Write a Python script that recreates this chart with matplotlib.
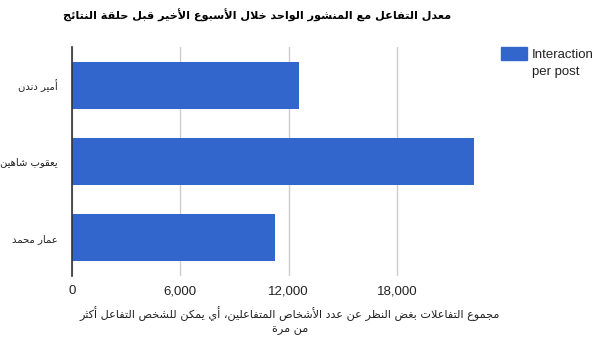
import matplotlib
matplotlib.use("Agg")
import matplotlib.pyplot as plt
from matplotlib.patches import Rectangle

# data
names = ["أمير دندن", "يعقوب شاهين", "عمار محمد"]
interaction = [12550, 22230, 11240]
ticks = [0, 6000, 12000, 18000]
tick_labels = ["0", "6,000", "12,000", "18,000"]
title = "معدل التفاعل مع المنشور الواحد خلال الأسبوع الأخير قبل حلقة النتائج"
xlabel_lines = ["مجموع التفاعلات بغض النظر عن عدد الأشخاص المتفاعلين، أي يمكن للشخص التفاعل أكثر",
                "من مرة"]
legend_label = "Interaction\nper post"

# --- small arabic shaper (matplotlib has no bidi/shaping) ---
# letters in order with number of presentation forms (FE80 onwards)
_order = [(0x621, 1), (0x622, 2), (0x623, 2), (0x624, 2), (0x625, 2), (0x626, 4),
          (0x627, 2), (0x628, 4), (0x629, 2), (0x62A, 4), (0x62B, 4), (0x62C, 4),
          (0x62D, 4), (0x62E, 4), (0x62F, 2), (0x630, 2), (0x631, 2), (0x632, 2),
          (0x633, 4), (0x634, 4), (0x635, 4), (0x636, 4), (0x637, 4), (0x638, 4),
          (0x639, 4), (0x63A, 4), (0x641, 4), (0x642, 4), (0x643, 4), (0x644, 4),
          (0x645, 4), (0x646, 4), (0x647, 4), (0x648, 2), (0x649, 2), (0x64A, 4)]
FORMS = {}
_p = 0xFE80
for cp, n in _order:
    FORMS[chr(cp)] = (_p, n)
    _p += n
LAMALEF = {"\u0622": 0xFEF5, "\u0623": 0xFEF7, "\u0625": 0xFEF9, "\u0627": 0xFEFB}


def dual(c):
    return c in FORMS and FORMS[c][1] == 4


def shape(text):
    # merge lam + alef first
    chars = []
    i = 0
    while i < len(text):
        c = text[i]
        if c == "\u0644" and i + 1 < len(text) and text[i + 1] in LAMALEF:
            chars.append(("LA", text[i + 1]))
            i += 2
        else:
            chars.append((c, None))
            i += 1
    out = []
    for k, (c, extra) in enumerate(chars):
        prev = chars[k - 1][0] if k > 0 else None
        nxt = chars[k + 1][0] if k + 1 < len(chars) else None
        joins_prev = prev is not None and prev != "LA" and dual(prev)
        if c == "LA":
            # lam joins previous, ligature never joins next
            out.append(chr(LAMALEF[extra] + (1 if joins_prev else 0)))
            continue
        if c not in FORMS:
            out.append(c)
            continue
        base, n = FORMS[c]
        joins_next = n == 4 and nxt is not None and (nxt == "LA" or nxt in FORMS)
        if n == 1:
            idx = 0
        elif joins_prev and joins_next:
            idx = 3
        elif joins_prev:
            idx = 1
        elif joins_next:
            idx = 2
        else:
            idx = 0
        out.append(chr(base + idx))
    return "".join(out)[::-1]


bar_color = "#3366CC"
plt.rcParams["font.family"] = ["Liberation Sans", "DejaVu Sans"]

fig = plt.figure(figsize=(5.97, 3.45), dpi=100)
ax = fig.add_axes([0.1201, 0.2009, 0.6734, 0.6629])

y = list(range(len(names)))
ax.barh(y, interaction, height=0.617, color=bar_color, zorder=2)
ax.set_ylim(len(names) - 0.5, -0.5)
ax.set_xlim(0, max(interaction))

ax.set_xticks(ticks)
ax.set_xticklabels(tick_labels, fontsize=9.5, color="#222222")
ax.set_yticks(y)
ax.set_yticklabels([shape(n) for n in names], fontsize=7.2, color="#222222",
                   family=["DejaVu Sans"])
ax.tick_params(axis="both", length=0)
ax.tick_params(axis="x", pad=7)
ax.tick_params(axis="y", pad=10)

ax.grid(axis="x", color="#cccccc", linewidth=1, zorder=0)
for s in ["top", "right", "bottom"]:
    ax.spines[s].set_visible(False)
ax.spines["left"].set_color("#333333")
ax.spines["left"].set_linewidth(1.2)
ax.spines["left"].set_zorder(3)

fig.text(257 / 597, 1 - 15 / 345, shape(title), ha="center", va="center",
         fontsize=8.1, fontweight="bold", family=["DejaVu Sans"], color="#000000")

# the oblique DejaVu face has no arabic glyphs, so the axis title stays upright
fig.text(290 / 597, 1 - 314 / 345, shape(xlabel_lines[0]), ha="center", va="center",
         fontsize=8.1, family=["DejaVu Sans"], color="#222222")
fig.text(290 / 597, 1 - 330 / 345, shape(xlabel_lines[1]), ha="center", va="center",
         fontsize=8.1, family=["DejaVu Sans"], color="#222222")

# legend
fig.patches.append(Rectangle((501 / 597, 1 - 59.5 / 345), 26 / 597, 12.5 / 345,
                             transform=fig.transFigure, color=bar_color))
fig.text(532 / 597, 1 - 49 / 345, legend_label, ha="left", va="top",
         fontsize=9.5, color="#222222", linespacing=1.5)

fig.savefig("out.png", dpi=100)
